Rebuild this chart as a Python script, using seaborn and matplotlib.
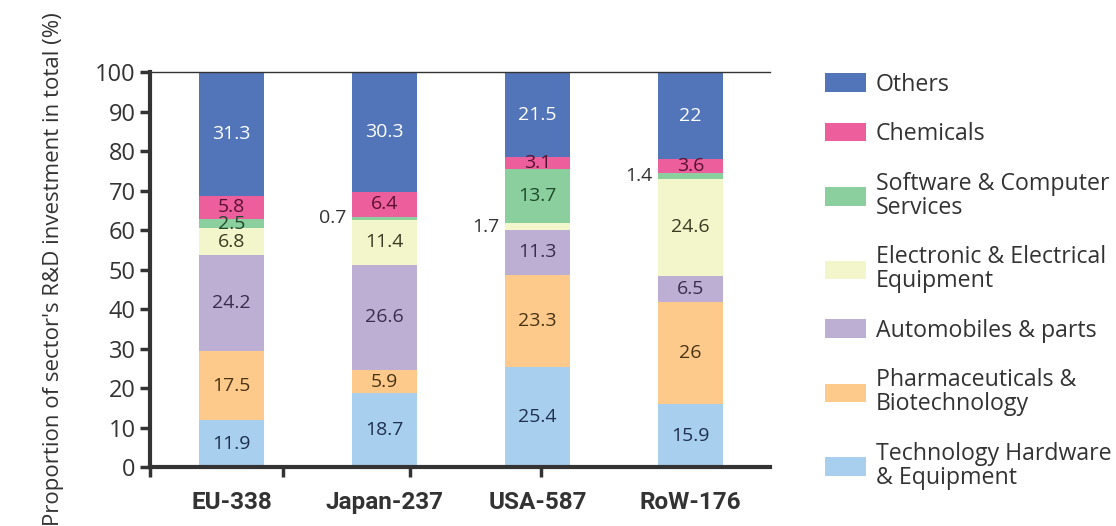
import numpy as np
import pandas as pd
import matplotlib
matplotlib.use("Agg")
import matplotlib.pyplot as plt
from matplotlib import font_manager
import seaborn as sns
from matplotlib.patches import Patch

# ---------------- data ----------------
regions = ["EU-338", "Japan-237", "USA-587", "RoW-176"]
sectors = [
    "Technology Hardware\n& Equipment",
    "Pharmaceuticals &\nBiotechnology",
    "Automobiles & parts",
    "Electronic & Electrical\nEquipment",
    "Software & Computer\nServices",
    "Chemicals",
    "Others",
]
tech_hw = [11.9, 18.7, 25.4, 15.9]
pharma = [17.5, 5.9, 23.3, 26]
auto = [24.2, 26.6, 11.3, 6.5]
electronic = [6.8, 11.4, 1.7, 24.6]
software = [2.5, 0.7, 13.7, 1.4]
chemicals = [5.8, 6.4, 3.1, 3.6]
others = [31.3, 30.3, 21.5, 22]
series = [tech_hw, pharma, auto, electronic, software, chemicals, others]

colors = ["#A9CFEE", "#FDCA8C", "#BDAFD3", "#F3F5CB", "#8CCF9E", "#EC5F9C", "#5274B9"]
text_colors = ["#1E2F4F", "#4A3214", "#3A2C4C", "#3A3A22", "#1D4A2A", "#5A1030", "white"]

# ---------------- frame ----------------
rows = []
for s, vals in zip(sectors, series):
    for r, v in zip(regions, vals):
        rows.append({"region": r, "sector": s, "value": v})
df = pd.DataFrame(rows)
df["sector"] = pd.Categorical(df["sector"], categories=sectors, ordered=True)
df["region"] = pd.Categorical(df["region"], categories=regions, ordered=True)
df = df.sort_values(["region", "sector"])
df["top"] = df.groupby("region", observed=True)["value"].cumsum()
df["bottom"] = df["top"] - df["value"]

sns.set_theme(style="white")
plt.rcParams["font.family"] = ["Open Sans", "DejaVu Sans"]

available = {f.name for f in font_manager.fontManager.ttflist}
narrow = "Liberation Sans Narrow" if "Liberation Sans Narrow" in available else "Roboto"

fig = plt.figure(figsize=(11.16, 5.26), dpi=100)
ax = fig.add_axes([0.134, 0.112, 0.556, 0.751])

bar_w = 0.42
# draw cumulative tops from the highest layer downward
for i in range(len(sectors) - 1, -1, -1):
    sub = df[df["sector"] == sectors[i]]
    sns.barplot(data=sub, x="region", y="top", order=regions, color=colors[i],
                width=bar_w, ax=ax, saturation=1, linewidth=0, errorbar=None)

# value labels
for i, s in enumerate(sectors):
    sub = df[df["sector"] == s]
    for _, row in sub.iterrows():
        xi = regions.index(row["region"])
        v = row["value"]
        mid = (row["bottom"] + row["top"]) / 2
        txt = f"{v:g}"
        if v < 2:
            ax.text(xi - bar_w / 2 - 0.04, mid, txt, ha="right", va="center",
                    fontsize=14, color="#333333")
        else:
            ax.text(xi, mid, txt, ha="center", va="center", fontsize=14,
                    color=text_colors[i])

ax.set_ylim(0, 100)
ax.set_xlim(-0.535, 3.52)
ax.set_yticks(np.arange(0, 101, 10))
ax.tick_params(axis="y", which="major", left=True, length=7, width=2.5,
               color="#333333", labelsize=17, labelcolor="#333333", pad=3)
ax.set_xticks(range(len(regions)))
ax.set_xticklabels(regions, fontsize=17.5, fontweight="bold",
                   family=[narrow, "DejaVu Sans"], color="#333333")
ax.tick_params(axis="x", which="major", bottom=False, pad=11)
ax.set_xticks([-0.535, 0.34, 1.17, 2.02], minor=True)
ax.tick_params(axis="x", which="minor", bottom=True, length=7, width=2.5, color="#333333")
ax.set_xlabel("")
ax.set_ylabel("Proportion of sector's R&D investment in total (%)", fontsize=16,
              color="#333333", labelpad=22)

for side in ["left", "bottom"]:
    ax.spines[side].set_linewidth(3)
    ax.spines[side].set_color("#333333")
ax.spines["top"].set_linewidth(1)
ax.spines["top"].set_color("#333333")
ax.spines["right"].set_visible(False)

handles = [Patch(facecolor=c, edgecolor="none") for c in colors]
leg = fig.legend(handles[::-1], sectors[::-1], loc="upper left",
                 bbox_to_anchor=(0.739, 0.862), frameon=False, fontsize=16.7,
                 handlelength=1.78, handleheight=0.85, handletextpad=0.42,
                 labelspacing=1.1, borderaxespad=0, borderpad=0)
for t in leg.get_texts():
    t.set_color("#333333")
    t.set_linespacing(1.0)

fig.savefig("out.png", dpi=100)
